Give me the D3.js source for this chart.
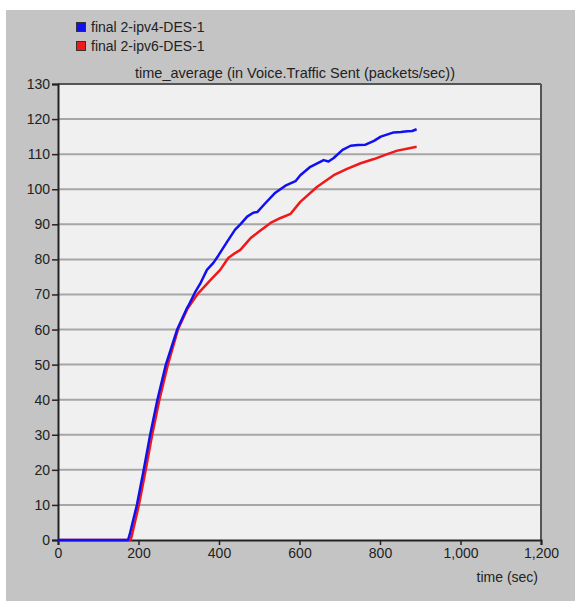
<!DOCTYPE html>
<html><head><meta charset="utf-8">
<script src="https://cdn.jsdelivr.net/npm/d3@7"></script>
<style>body{margin:0;background:#fff}svg{display:block}</style>
</head><body>
<script>
const seriesNames = ["final 2-ipv4-DES-1", "final 2-ipv6-DES-1"];
const seriesColors = ["#1010f0", "#f01818"];
const title = "time_average (in Voice.Traffic Sent (packets/sec))";
const xLabel = "time (sec)";
const xTicks = [0, 200, 400, 600, 800, 1000, 1200];
const yTicks = [0,10,20,30,40,50,60,70,80,90,100,110,120,130];

const ipv4T = [0, 174, 178, 196, 213, 229, 247, 268, 296, 320, 324, 340, 353, 370, 386, 399, 420, 440, 453, 470, 485, 495, 515, 540, 565, 590, 602, 627, 660, 672, 685, 707, 727, 745, 764, 785, 802, 834, 852, 868, 880, 891];
const ipv4V = [0, 0, 1.5, 10, 20, 30, 40, 50, 60, 66, 66.8, 70.5, 73, 77, 79, 81.2, 85, 88.5, 90, 92.2, 93.3, 93.5, 96, 99, 101, 102.3, 104, 106.4, 108.3, 107.9, 108.9, 111.2, 112.4, 112.6, 112.7, 113.8, 115, 116.2, 116.3, 116.5, 116.6, 117.1];
const ipv6T = [0, 180, 183, 201, 218, 234, 252, 273, 298, 322, 346, 378, 403, 423, 440, 453, 478, 498, 528, 553, 578, 602, 644, 685, 718, 752, 785, 818, 843, 870, 891];
const ipv6V = [0, 0, 1, 10, 20, 30, 40, 50, 60, 66, 70, 74, 77, 80.4, 81.8, 82.7, 86, 87.8, 90.4, 91.8, 93, 96.4, 100.7, 104, 105.8, 107.4, 108.6, 110, 111, 111.6, 112.1];

const W = 575, H = 601;
const m = {left: 58, top: 84, right: 541, bottom: 540};

const svg = d3.select("body").append("svg").attr("width", W).attr("height", H);
svg.append("rect").attr("x", 6).attr("y", 10).attr("width", W - 6).attr("height", H - 10).attr("fill", "#c4c4c4");

const x = d3.scaleLinear().domain([0, 1200]).range([m.left, m.right]);
const y = d3.scaleLinear().domain([0, 130]).range([m.bottom, m.top]);

svg.append("rect").attr("x", m.left).attr("y", m.top).attr("width", m.right - m.left).attr("height", m.bottom - m.top).attr("fill", "#f0f0f0");

// gridlines
svg.append("g").selectAll("line").data(yTicks.slice(1, -1)).join("line")
  .attr("x1", m.left).attr("x2", m.right)
  .attr("y1", d => y(d)).attr("y2", d => y(d))
  .attr("stroke", "#a6a6a6").attr("stroke-width", 2);

// frame top/right
svg.append("line").attr("x1", m.left).attr("x2", m.right).attr("y1", m.top).attr("y2", m.top).attr("stroke", "#555").attr("stroke-width", 2);
svg.append("line").attr("x1", m.right).attr("x2", m.right).attr("y1", m.top).attr("y2", m.bottom).attr("stroke", "#555").attr("stroke-width", 2);

const font = "Liberation Sans, Arial, sans-serif";

const xAxis = svg.append("g").attr("transform", `translate(0,${m.bottom})`)
  .call(d3.axisBottom(x).tickValues(xTicks).tickSize(5).tickPadding(3).tickFormat(d3.format(",")));
const yAxis = svg.append("g").attr("transform", `translate(${m.left},0)`)
  .call(d3.axisLeft(y).tickValues(yTicks).tickSize(6).tickPadding(2));
[xAxis, yAxis].forEach(a => {
  a.select(".domain").attr("stroke", "#222").attr("stroke-width", 2);
  a.selectAll(".tick line").attr("stroke", "#222").attr("stroke-width", 1.5);
  a.selectAll("text").attr("font-family", font).attr("font-size", 14).attr("fill", "#222");
});

const line = d3.line().x(d => x(d[0])).y(d => y(d[1])).curve(d3.curveLinear);
const data4 = ipv4T.map((t, i) => [t, ipv4V[i]]);
const data6 = ipv6T.map((t, i) => [t, ipv6V[i]]);
svg.append("path").datum(data6).attr("d", line).attr("fill", "none").attr("stroke", seriesColors[1]).attr("stroke-width", 2.5).attr("stroke-linejoin", "round");
svg.append("path").datum(data4).attr("d", line).attr("fill", "none").attr("stroke", seriesColors[0]).attr("stroke-width", 2.5).attr("stroke-linejoin", "round");

// legend
seriesNames.forEach((n, i) => {
  const yy = 22 + i * 19;
  svg.append("rect").attr("x", 76.5).attr("y", yy + 0.5).attr("width", 9).attr("height", 9).attr("fill", seriesColors[i]).attr("stroke", "#333").attr("stroke-width", 1);
  svg.append("text").attr("x", 91).attr("y", yy + 10).attr("font-family", font).attr("font-size", 14).attr("fill", "#222").text(n);
});

svg.append("text").attr("x", 295).attr("y", 78).attr("text-anchor", "middle").attr("font-family", font).attr("font-size", 14.5).attr("fill", "#222").text(title);
svg.append("text").attr("x", 538).attr("y", 582).attr("text-anchor", "end").attr("font-family", font).attr("font-size", 14).attr("fill", "#222").text(xLabel);
</script>
</body></html>
